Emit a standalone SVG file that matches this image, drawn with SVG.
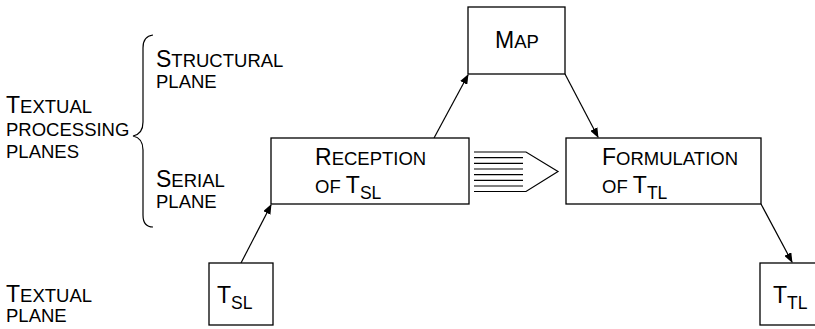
<svg xmlns="http://www.w3.org/2000/svg" width="815" height="329" viewBox="0 0 815 329">
<defs>
<style>
text{font-family:"Liberation Sans",Arial,sans-serif;fill:#000}
.b{font-size:23px}
.s{font-size:18.5px}
.sub{font-size:17.5px}
.box{fill:#fff;stroke:#000;stroke-width:1.3}
.ln{stroke:#000;stroke-width:1.2;fill:none}
</style>
<marker id="ah" markerWidth="10" markerHeight="8" refX="9" refY="4" orient="auto" markerUnits="userSpaceOnUse">
<path d="M0,0 L10,4 L0,8 Z" fill="#000"/>
</marker>
</defs>
<rect width="815" height="329" fill="#fff"/>

<g id="labels">
<text x="6" y="113"><tspan class="b">T</tspan><tspan class="s">EXTUAL</tspan></text>
<text x="6" y="136" class="s">PROCESSING</text>
<text x="6" y="158" class="s">PLANES</text>
<text x="156" y="67"><tspan class="b">S</tspan><tspan class="s">TRUCTURAL</tspan></text>
<text x="156" y="88" class="s">PLANE</text>
<text x="156" y="187"><tspan class="b">S</tspan><tspan class="s">ERIAL</tspan></text>
<text x="156" y="208" class="s">PLANE</text>
<text x="6" y="302"><tspan class="b">T</tspan><tspan class="s">EXTUAL</tspan></text>
<text x="6" y="322" class="s">PLANE</text>
<path class="ln" d="M153,35 Q143,36 143,48 L143,122 Q143,134 133,136 Q143,138 143,150 L143,215 Q143,227 153,227"/>
</g>

<g id="connectors">
<line class="ln" x1="241" y1="263" x2="271" y2="205" marker-end="url(#ah)"/>
<line class="ln" x1="434" y1="138" x2="468" y2="75" marker-end="url(#ah)"/>
<line class="ln" x1="565" y1="74" x2="598" y2="137" marker-end="url(#ah)"/>
<line class="ln" x1="761" y1="204" x2="792" y2="262" marker-end="url(#ah)"/>
<g id="transfer">
<path class="ln" d="M474,152 L526,152 L558,171.5 L526,191.5 L474,191.5"/>
<path class="ln" d="M474,157.7 H523 M474,163.3 H523 M474,169 H523 M474,174.7 H523 M474,180.3 H523 M474,186 H523"/>
</g>
</g>

<g id="map">
<rect class="box" x="468" y="7" width="97" height="67"/>
<text x="495" y="48"><tspan class="b">M</tspan><tspan class="s">AP</tspan></text>
</g>

<g id="reception">
<rect class="box" x="271" y="138" width="198" height="66"/>
<text x="315" y="165"><tspan class="b">R</tspan><tspan class="s">ECEPTION</tspan></text>
<text x="315" y="193"><tspan class="s">OF </tspan><tspan class="b">T</tspan><tspan class="sub" dy="6">SL</tspan></text>
</g>

<g id="formulation">
<rect class="box" x="566" y="138" width="195" height="66"/>
<text x="602" y="165"><tspan class="b">F</tspan><tspan class="s">ORMULATION</tspan></text>
<text x="602" y="193"><tspan class="s">OF </tspan><tspan class="b">T</tspan><tspan class="sub" dy="6">TL</tspan></text>
</g>

<g id="tsl">
<rect class="box" x="209" y="263" width="64" height="62"/>
<text x="217" y="303"><tspan class="b">T</tspan><tspan class="sub" dy="6">SL</tspan></text>
</g>

<g id="ttl">
<rect class="box" x="760" y="263" width="64" height="62"/>
<text x="773" y="303"><tspan class="b">T</tspan><tspan class="sub" dy="6">TL</tspan></text>
</g>
</svg>
